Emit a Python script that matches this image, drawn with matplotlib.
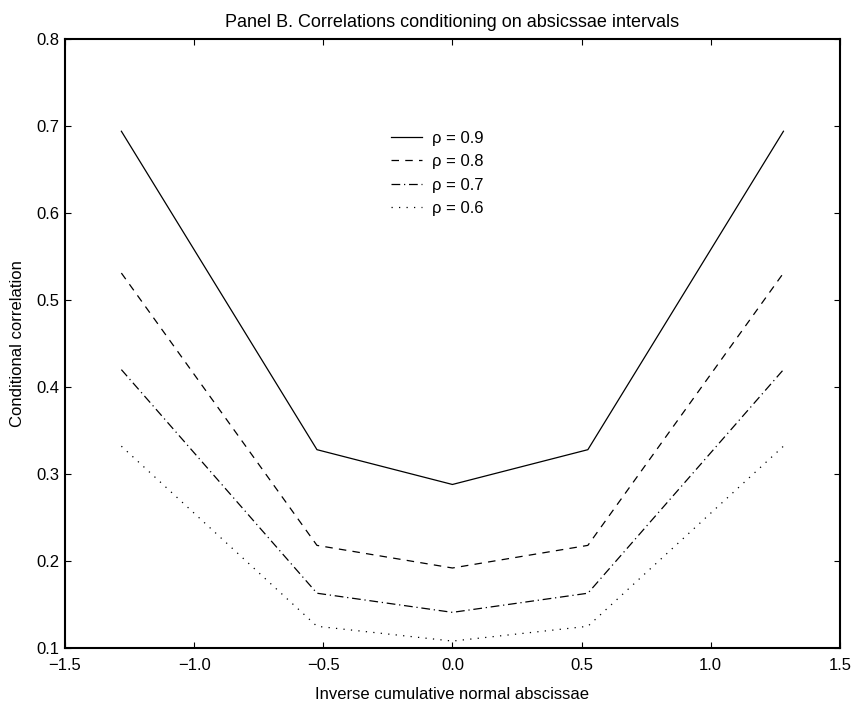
import numpy as np
import matplotlib
matplotlib.use("Agg")
import matplotlib.pyplot as plt

plt.rcParams['font.family'] = ['Liberation Sans', 'DejaVu Sans']

# abscissae (inverse cumulative normal) and conditional correlations
x = [-1.2816, -0.5244, 0.0, 0.5244, 1.2816]
rho_labels = ["\u03c1 = 0.9", "\u03c1 = 0.8", "\u03c1 = 0.7", "\u03c1 = 0.6"]
corr_09 = [0.694, 0.328, 0.288, 0.328, 0.694]
corr_08 = [0.531, 0.218, 0.192, 0.218, 0.531]
corr_07 = [0.420, 0.163, 0.141, 0.163, 0.420]
corr_06 = [0.332, 0.125, 0.108, 0.125, 0.332]

fig = plt.figure(figsize=(8.57, 7.07), dpi=100)
ax = fig.add_axes([0.0758, 0.0834, 0.9042, 0.8614])

styles = ['-', (0, (6, 5)), (0, (7, 3, 1, 3)), (0, (1, 5))]
for ys, lab, ls in zip([corr_09, corr_08, corr_07, corr_06], rho_labels, styles):
    ax.plot(x, ys, color='black', linewidth=0.9, linestyle=ls, label=lab)

ax.set_xlim(-1.5, 1.5)
ax.set_ylim(0.1, 0.8)
ax.set_xticks(np.arange(-1.5, 1.51, 0.5))
ax.set_xticklabels(['\u22121.5', '\u22121.0', '\u22120.5', '0.0', '0.5', '1.0', '1.5'])
ax.set_yticks(np.arange(0.1, 0.81, 0.1))
ax.set_yticklabels(['0.1', '0.2', '0.3', '0.4', '0.5', '0.6', '0.7', '0.8'])
ax.tick_params(direction='in', top=True, right=True, length=4, width=0.8,
               labelsize=12)
ax.tick_params(axis='x', pad=7)
ax.tick_params(axis='y', pad=4)
for sp in ax.spines.values():
    sp.set_linewidth(1.5)

ax.set_title("Panel B. Correlations conditioning on absicssae intervals",
             fontsize=13, pad=9)
ax.set_xlabel("Inverse cumulative normal abscissae", fontsize=12, labelpad=10)
ax.set_ylabel("Conditional correlation", fontsize=12, labelpad=8)

ax.legend(loc='upper left', bbox_to_anchor=(0.412, 0.86), frameon=False,
          fontsize=12, handlelength=1.85, handletextpad=0.6, labelspacing=0.5,
          borderaxespad=0)

fig.savefig("out.png", dpi=100)
